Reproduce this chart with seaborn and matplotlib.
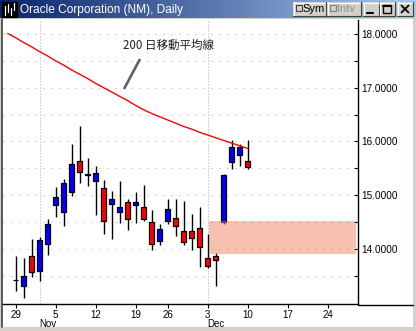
import numpy as np
import pandas as pd
import matplotlib
matplotlib.use("Agg")
import matplotlib.pyplot as plt
from matplotlib.patches import Rectangle
from matplotlib.colors import LinearSegmentedColormap
import seaborn as sns

# ---------------- data ----------------
dates = ['10-29', '10-30', '10-31', '11-01', '11-02', '11-05', '11-06', '11-07', '11-08', '11-09',
         '11-12', '11-13', '11-14', '11-15', '11-16', '11-19', '11-20', '11-21', '11-23', '11-26',
         '11-27', '11-28', '11-29', '11-30', '12-03', '12-04', '12-05', '12-06', '12-07', '12-10']
opens = [13.42, 13.32, 13.87, 13.59, 14.10, 14.81, 14.68, 15.06, 15.63, 15.38,
         15.26, 15.13, 14.83, 14.68, 14.87, 14.81, 14.79, 14.50, 14.14, 14.53,
         14.57, 14.33, 14.33, 14.40, 13.83, 13.87, 14.50, 15.61, 15.74, 15.63]
highs = [13.87, 13.83, 14.19, 14.22, 14.56, 15.15, 15.30, 15.96, 16.29, 15.69,
         15.54, 15.28, 15.08, 15.27, 14.93, 15.06, 15.19, 14.73, 14.46, 14.93,
         14.93, 14.89, 14.66, 14.78, 14.28, 13.92, 15.40, 16.03, 15.95, 16.03]
lows = [13.21, 13.09, 13.47, 13.40, 13.89, 14.60, 14.43, 14.99, 15.22, 15.18,
        14.64, 14.27, 14.19, 14.49, 14.36, 14.49, 14.53, 13.98, 14.08, 14.46,
        14.24, 14.07, 13.99, 13.67, 13.64, 13.32, 14.46, 15.49, 15.55, 15.49]
closes = [13.42, 13.49, 13.57, 14.16, 14.47, 14.96, 15.22, 15.58, 15.44, 15.38,
          15.41, 14.52, 14.93, 14.79, 14.55, 14.87, 14.55, 14.09, 14.37, 14.74,
          14.42, 14.13, 14.20, 14.03, 13.69, 13.80, 15.38, 15.89, 15.89, 15.53]

# 200-day moving average (starts one session before the first candle)
ma_days = list(range(-1, 30))
ma_values = [18.01, 17.93, 17.84, 17.76, 17.67, 17.59, 17.50, 17.42, 17.33, 17.25,
             17.17, 17.08, 17.00, 16.92, 16.84, 16.76, 16.67, 16.59, 16.52, 16.46,
             16.40, 16.34, 16.28, 16.23, 16.17, 16.12, 16.07, 16.02, 15.97, 15.92, 15.87]

# support zone
zone_start = 24.16
zone_end = 42.5
zone_low = 13.91
zone_high = 14.52

tick_days = [0, 5, 10, 15, 19, 24, 29, 34, 39]
tick_labels = ['29', '5', '12', '19', '26', '3', '10', '17', '24']
month_days = [3, 24]
month_labels = ['Nov', 'Dec']
y_major = [14, 15, 16, 17, 18]
y_grid = [13.5, 14.0, 14.5, 15.0, 15.5, 16.0, 16.5, 17.0, 17.5, 18.0]

title = 'Oracle Corporation (NM), Daily'
ma_label = '200 日移動平均線'

# ---------------- style ----------------
sns.set_style("white")
plt.rcParams['font.family'] = ['Liberation Sans', 'DejaVu Sans']

W, H = 416, 331
fig = plt.figure(figsize=(W / 100, H / 100), dpi=100)

# ---------------- window decoration ----------------
bg = fig.add_axes([0, 0, 1, 1], zorder=0)
bg.set_xlim(0, W)
bg.set_ylim(H, 0)
bg.axis('off')
bg.add_patch(Rectangle((0, 0), W, H, color='#D4D0C8', lw=0))
bg.add_patch(Rectangle((2, 19), 411, 308, color='white', lw=0))
bg.plot([1.5, 1.5], [19, 327], color='#404040', lw=1.2)
bg.plot([358, 413], [304.5, 304.5], color='black', lw=1.0)

grad = np.linspace(0, 1, 256).reshape(1, -1)
cmap = LinearSegmentedColormap.from_list('tb', ['#0A246A', '#A6CAF0'])
bg.imshow(grad, cmap=cmap, extent=(0, W, 18, 0), aspect='auto', zorder=1)
# icon
bg.add_patch(Rectangle((2, 1.5), 15, 15, color='black', zorder=2))
for xx, y0, y1 in [(5, 6, 15), (8, 4, 12), (11, 8, 15), (14, 3, 10)]:
    bg.plot([xx, xx], [y0, y1], color='white', lw=0.9, zorder=3)
bg.text(20, 9.5, title, color='white', fontsize=8.6, va='center', ha='left', zorder=3)


def button(x0, x1, y0=2, y1=16):
    bg.add_patch(Rectangle((x0, y0), x1 - x0, y1 - y0, facecolor='#D4D0C8', edgecolor='none', zorder=2))
    bg.plot([x0, x1], [y0 + 0.5, y0 + 0.5], color='white', lw=0.8, zorder=3)
    bg.plot([x0 + 0.5, x0 + 0.5], [y0, y1], color='white', lw=0.8, zorder=3)
    bg.plot([x0, x1], [y1 - 0.5, y1 - 0.5], color='#404040', lw=0.8, zorder=3)
    bg.plot([x1 - 0.5, x1 - 0.5], [y0, y1], color='#404040', lw=0.8, zorder=3)


button(293, 326)
bg.add_patch(Rectangle((295.5, 5), 6, 6, facecolor='#D4D0C8', edgecolor='#404040', lw=0.8, zorder=4))
bg.text(302.5, 9.5, 'Sym', fontsize=8, va='center', ha='left', color='black', zorder=4)
button(327, 361)
bg.add_patch(Rectangle((329.5, 5), 6, 6, facecolor='#D4D0C8', edgecolor='#808080', lw=0.8, zorder=4))
bg.text(337, 9.5, 'Intv', fontsize=8, va='center', ha='left', color='#909090', zorder=4)
button(363, 379)
bg.plot([367, 373], [12.5, 12.5], color='black', lw=1.5, zorder=4)
button(379, 395)
bg.add_patch(Rectangle((383, 5), 8, 7.5, facecolor='none', edgecolor='black', lw=1.0, zorder=4))
bg.plot([383, 391], [5.5, 5.5], color='black', lw=1.5, zorder=4)
button(397, 413)
bg.plot([401.5, 408.5], [5.5, 12.5], color='black', lw=1.3, zorder=4)
bg.plot([401.5, 408.5], [12.5, 5.5], color='black', lw=1.3, zorder=4)

# ---------------- chart ----------------
ax = fig.add_axes([3 / W, (H - 304) / H, (358 - 3) / W, (304 - 20) / H], zorder=1)
ax.set_facecolor('none')

days = np.arange(len(dates))
df = pd.DataFrame({'day': days, 'open': opens, 'high': highs, 'low': lows, 'close': closes})

# grid
for gy in y_grid:
    ax.axhline(gy, color='#A8A8A8', lw=0.72, ls=(0, (1, 7)), zorder=0.5)
for md in month_days:
    ax.axvline(md, color='#A8A8A8', lw=0.72, ls=(0, (1, 2)), zorder=0.5)

# wicks
ax.vlines(df['day'], df['low'], df['high'], color='black', lw=1.0, zorder=2)
# bodies
body_colors = ['#0000FF' if c > o else ('#FF0000' if c < o else 'black')
               for o, c in zip(df['open'], df['close'])]
heights = [max(abs(c - o), 0.008) for o, c in zip(df['open'], df['close'])]
bottoms = [min(o, c) for o, c in zip(df['open'], df['close'])]
ax.bar(df['day'], heights, bottom=bottoms, width=0.58, color=body_colors,
       edgecolor='black', linewidth=0.9, zorder=3)

# moving average
ma_df = pd.DataFrame({'day': ma_days, 'ma': ma_values})
sns.lineplot(data=ma_df, x='day', y='ma', color='#FF0000', lw=1.0, estimator=None,
             ax=ax, zorder=4, legend=False)

# support zone
ax.add_patch(Rectangle((zone_start, zone_low), zone_end - zone_start, zone_high - zone_low,
                       facecolor='#EF7F5C', alpha=0.48, edgecolor='none', zorder=5))

# annotation
ax.plot([15.54, 13.54], [17.535, 16.977], color='#606060', lw=1.9, solid_capstyle='butt', zorder=6)
ax.text(19.14, 17.79, ma_label, fontsize=8.3, ha='center', va='center', color='#202020',
        family=['Noto Sans CJK JP', 'DejaVu Sans'], zorder=6)

# axes limits and ticks
ax.set_xlim(-1.59, 42.79)
ax.set_ylim(12.977, 18.26)
ax.set_xlabel('')
ax.set_ylabel('')
for s in ['top', 'left']:
    ax.spines[s].set_visible(False)
for s in ['bottom', 'right']:
    ax.spines[s].set_visible(True)
    ax.spines[s].set_color('black')
    ax.spines[s].set_linewidth(1.0)

ax.set_xticks(tick_days)
ax.set_xticklabels(tick_labels)
ax.tick_params(axis='x', direction='out', length=3, width=0.8, pad=1.0, labelsize=7.0,
               colors='black', bottom=True)
ax.yaxis.tick_right()
ax.set_yticks(y_major)
ax.set_yticklabels([f'{v:.4f}' for v in y_major])
ax.set_yticks(y_grid, minor=True)
ax.tick_params(axis='y', which='major', direction='in', length=3, width=0.8, pad=2.5,
               labelsize=7.2, colors='black', right=True, left=False)
ax.tick_params(axis='y', which='minor', direction='in', length=3, width=0.8,
               right=True, left=False, colors='black')

for md, ml in zip(month_days, month_labels):
    ax.annotate(ml, xy=(md, 0), xycoords=('data', 'axes fraction'),
                xytext=(-0.5, -15), textcoords='offset pixels',
                ha='left', va='top', fontsize=7.0, color='black', annotation_clip=False)

fig.savefig('out.png', dpi=100)
